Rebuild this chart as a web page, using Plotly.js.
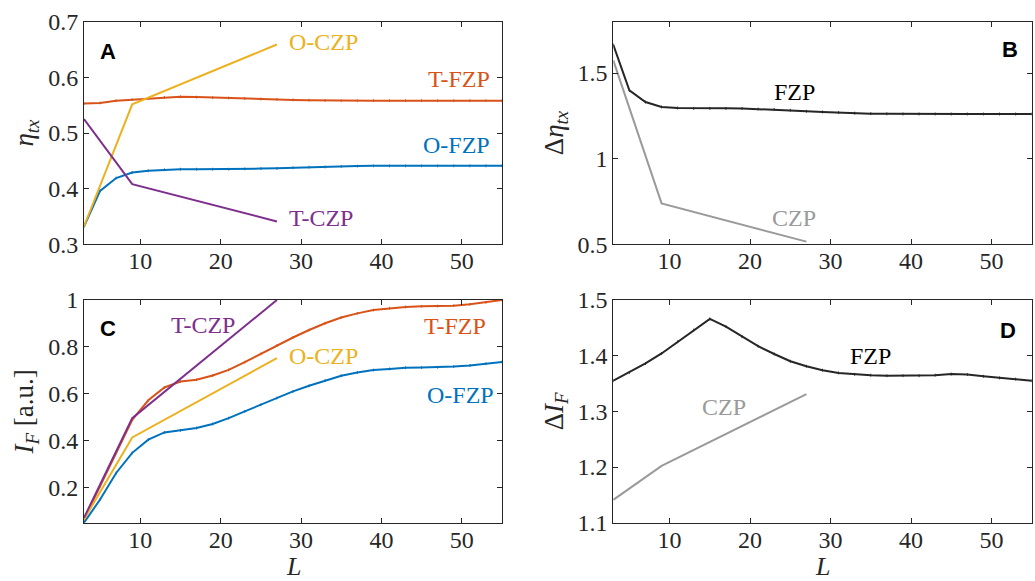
<!DOCTYPE html>
<html>
<head>
<meta charset="utf-8">
<script src="https://cdn.plot.ly/plotly-3.0.1.min.js"></script>
<style>
html,body{margin:0;padding:0;background:#fff;}
#chart{width:1035px;height:581px;}
</style>
</head>
<body>
<div id="chart"></div>
<script>
// ---- data ----
const L_fzp = [3,5,7,9,11,13,15,17,19,21,23,25,27,29,31,33,35,37,39,41,43,45,47,49,51,53,55];
const L_czp = [3,9,27];

// Panel A: eta_tx
const A_TFZP = [0.553,0.554,0.558,0.560,0.562,0.564,0.565,0.5645,0.5635,0.563,0.562,0.561,0.5605,0.5595,0.559,0.5585,0.558,0.558,0.558,0.558,0.558,0.558,0.558,0.558,0.558,0.558,0.558];
const A_OFZP = [0.332,0.396,0.419,0.429,0.432,0.434,0.435,0.435,0.435,0.435,0.4355,0.436,0.4365,0.4375,0.4385,0.439,0.440,0.4405,0.441,0.441,0.441,0.441,0.441,0.441,0.441,0.441,0.441];
const A_OCZP = [0.332,0.5515,0.659];
const A_TCZP = [0.525,0.408,0.341];

// Panel B: delta eta_tx
const B_FZP = [1.665,1.399,1.331,1.302,1.296,1.294,1.294,1.294,1.293,1.290,1.287,1.283,1.277,1.273,1.269,1.266,1.263,1.262,1.261,1.261,1.261,1.261,1.261,1.261,1.261,1.261,1.261];
const B_CZP = [1.574,0.739,0.5155];

// Panel C: I_F
const C_TFZP = [0.064,0.205,0.348,0.489,0.572,0.627,0.652,0.660,0.678,0.702,0.735,0.770,0.806,0.840,0.872,0.901,0.925,0.943,0.957,0.965,0.970,0.973,0.974,0.976,0.982,0.990,1.0];
const C_OFZP = [0.050,0.149,0.262,0.348,0.404,0.435,0.444,0.454,0.471,0.496,0.525,0.553,0.582,0.610,0.634,0.657,0.677,0.691,0.701,0.706,0.711,0.712,0.713,0.716,0.721,0.728,0.736];
const C_TCZP = [0.071,0.496,1.0];
const C_OCZP = [0.064,0.414,0.752];

// Panel D: delta I_F
const D_FZP = [1.355,1.370,1.386,1.404,1.425,1.446,1.466,1.452,1.434,1.417,1.403,1.390,1.381,1.374,1.369,1.3665,1.365,1.364,1.364,1.364,1.365,1.367,1.366,1.363,1.360,1.358,1.355];
const D_CZP = [1.141,1.202,1.331];

const xTicks = [10,20,30,40,50];

// ---- styles ----
const BLUE='#0072BD', ORANGE='#D95319', YELLOW='#EDB120', PURPLE='#7E2F8E', DARK='#262626', GRAY='#9a9a9a';
const SERIF='"Liberation Serif", "DejaVu Serif", serif';
const SANS='"Liberation Sans", Arial, sans-serif';

function fzp(x,y,color,xa,ya){
  return {x:x,y:y,xaxis:xa,yaxis:ya,type:'scatter',mode:'lines+markers',
    line:{color:color,width:2},
    marker:{symbol:'line-ns',size:2,color:color,line:{color:color,width:1}},
    hoverinfo:'skip',showlegend:false};
}
function czp(x,y,color,xa,ya){
  return {x:x,y:y,xaxis:xa,yaxis:ya,type:'scatter',mode:'lines',
    line:{color:color,width:2},hoverinfo:'skip',showlegend:false};
}

const data = [
  fzp(L_fzp,A_OFZP,BLUE,'x','y'),
  fzp(L_fzp,A_TFZP,ORANGE,'x','y'),
  czp(L_czp,A_OCZP,YELLOW,'x','y'),
  czp(L_czp,A_TCZP,PURPLE,'x','y'),
  fzp(L_fzp,B_FZP,DARK,'x2','y2'),
  czp(L_czp,B_CZP,GRAY,'x2','y2'),
  fzp(L_fzp,C_OFZP,BLUE,'x3','y3'),
  fzp(L_fzp,C_TFZP,ORANGE,'x3','y3'),
  czp(L_czp,C_OCZP,YELLOW,'x3','y3'),
  czp(L_czp,C_TCZP,PURPLE,'x3','y3'),
  fzp(L_fzp,D_FZP,DARK,'x4','y4'),
  czp(L_czp,D_CZP,GRAY,'x4','y4')
];

const tickFont = {family:SERIF,size:24,color:DARK};
function xax(domain,anchor){
  return {domain:domain,anchor:anchor,range:[3,55],tickvals:xTicks,ticks:'inside',ticklen:5,
    tickcolor:DARK,showline:true,linecolor:DARK,linewidth:1,mirror:'ticks',showgrid:false,zeroline:false,
    tickfont:tickFont,ticklabelstandoff:-5,fixedrange:true};
}
function yax(domain,anchor,range,tickvals,title){
  return {domain:domain,anchor:anchor,range:range,tickvals:tickvals,ticks:'inside',ticklen:5,
    tickcolor:DARK,showline:true,linecolor:DARK,linewidth:1,mirror:'ticks',showgrid:false,zeroline:false,
    tickfont:tickFont,fixedrange:true,
    title:{text:title,font:{family:SERIF,size:27,color:DARK},standoff:6}};
}

const xL=[84/1035,502/1035], xR=[613.3/1035,1031.7/1035];
const yT=[1-244.3/581,1-21.7/581], yB=[1-522.7/581,1-300/581];

function lab(text,x,y,xref,yref,color,anchor){
  return {text:text,x:x,y:y,xref:xref,yref:yref,showarrow:false,xanchor:anchor||'center',yanchor:'middle',
    font:{family:SERIF,size:24,color:color}};
}
function letter(text,x,y,xref,yref,anchor){
  return {text:'<b>'+text+'</b>',x:x,y:y,xref:xref,yref:yref,showarrow:false,xanchor:anchor,yanchor:'middle',
    font:{family:SANS,size:22,color:'#000'}};
}
function xtitle(xref){
  return {text:'<i>L</i>',x:0.5,y:0,xref:xref,yref:'paper',showarrow:false,xanchor:'center',yanchor:'bottom',
    yshift:-2,font:{family:SERIF,size:26,color:DARK}};
}

const layout = {
  width:1035,height:581,
  margin:{l:0,r:0,t:0,b:0},
  paper_bgcolor:'#fff',plot_bgcolor:'#fff',
  showlegend:false,
  xaxis:xax(xL,'y'),
  yaxis:yax(yT,'x',[0.3,0.7],[0.3,0.4,0.5,0.6,0.7],'<i>η</i><sub><i>tx</i></sub>'),
  xaxis2:xax(xR,'y2'),
  yaxis2:yax(yT,'x2',[0.5,1.8],[0.5,1,1.5],'Δ<i>η</i><sub><i>tx</i></sub>'),
  xaxis3:xax(xL,'y3'),
  yaxis3:yax(yB,'x3',[0.05,1],[0.2,0.4,0.6,0.8,1],'<i>I</i><sub><i>F</i></sub> [a.u.]'),
  xaxis4:xax(xR,'y4'),
  yaxis4:yax(yB,'x4',[1.1,1.5],[1.1,1.2,1.3,1.4,1.5],'Δ<i>I</i><sub><i>F</i></sub>'),
  annotations:[
    xtitle('x3 domain'),
    xtitle('x4 domain'),
    letter('A',0.033,0.865,'x domain','y domain','left'),
    letter('B',0.972,0.873,'x2 domain','y2 domain','right'),
    letter('C',0.033,0.874,'x3 domain','y3 domain','left'),
    letter('D',0.968,0.865,'x4 domain','y4 domain','right'),
    lab('O-CZP',28.2,0.664,'x','y',YELLOW,'left'),
    lab('T-FZP',53.7,0.597,'x','y',ORANGE,'right'),
    lab('O-FZP',53.8,0.478,'x','y',BLUE,'right'),
    lab('T-CZP',28.2,0.347,'x','y',PURPLE,'left'),
    lab('FZP',25.5,1.389,'x2','y2','#000'),
    lab('CZP',25.4,0.651,'x2','y2',GRAY),
    lab('T-CZP',17.8,0.894,'x3','y3',PURPLE),
    lab('O-CZP',28.2,0.762,'x3','y3',YELLOW,'left'),
    lab('T-FZP',49.2,0.891,'x3','y3',ORANGE),
    lab('O-FZP',49.8,0.593,'x3','y3',BLUE),
    lab('FZP',35.0,1.399,'x4','y4','#000'),
    lab('CZP',16.8,1.307,'x4','y4',GRAY)
  ]
};

Plotly.newPlot('chart',data,layout,{staticPlot:true,displayModeBar:false});
</script>
</body>
</html>
